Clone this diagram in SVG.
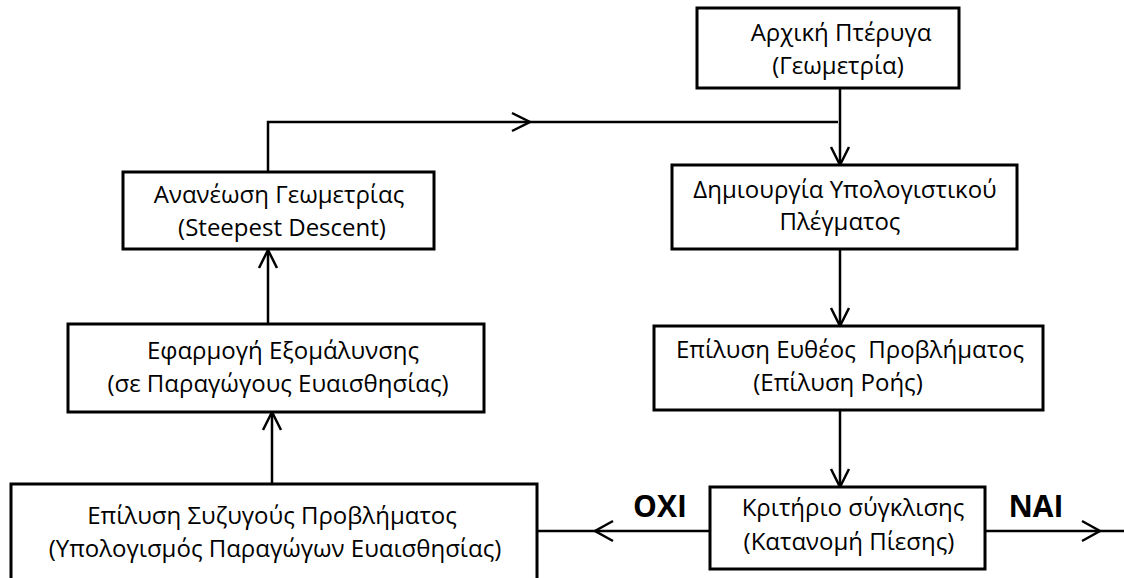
<svg xmlns="http://www.w3.org/2000/svg" width="1124" height="578" viewBox="0 0 1124 578">
<style>
.box{fill:#fff;stroke:#000;stroke-width:3}
.t{font-family:"Open Sans","Liberation Sans",sans-serif;font-size:24px;fill:#000;text-anchor:middle;white-space:pre}
.lab{font-family:"Open Sans","Liberation Sans",sans-serif;font-size:30px;font-weight:bold;fill:#000;text-anchor:middle}
.c{fill:none;stroke:#000;stroke-width:2.5}
.ah{fill:none;stroke:#000;stroke-width:2.5;stroke-linecap:butt}
</style>
<rect width="1124" height="578" fill="#fff"/>
<g id="connectors">
<path class="c" d="M840,88V165"/>
<path class="ah" d="M831,147L840,165L849,147"/>
<path class="c" d="M840,250V326"/>
<path class="ah" d="M831,308L840,326L849,308"/>
<path class="c" d="M840,410V487"/>
<path class="ah" d="M831,469L840,487L849,469"/>
<path class="c" d="M710,531H537"/>
<path class="ah" d="M613,521L595,531L613,541"/>
<path class="c" d="M986,531H1124"/>
<path class="ah" d="M1082,521L1100,531L1082,541"/>
<path class="c" d="M272,485V412"/>
<path class="ah" d="M263,430L272,412L281,430"/>
<path class="c" d="M268,324V250"/>
<path class="ah" d="M259,268L268,250L277,268"/>
<path class="c" d="M268,172V122H838"/>
<path class="ah" d="M512,113L530,122L512,131"/>
</g>
<g id="n1"><rect class="box" x="697" y="8" width="262" height="80"/><text class="t" x="841" y="41">Αρχική Πτέρυγα</text><text class="t" x="838" y="74">(Γεωμετρία)</text></g>
<g id="n2"><rect class="box" x="672" y="165" width="345" height="84"/><text class="t" x="845" y="198">Δημιουργία Υπολογιστικού</text><text class="t" x="840" y="230">Πλέγματος</text></g>
<g id="n3"><rect class="box" x="654" y="326" width="389" height="84"/><text class="t" x="850" y="358">Επίλυση Ευθέος  Προβλήματος</text><text class="t" x="838" y="391">(Επίλυση Ροής)</text></g>
<g id="n4"><rect class="box" x="710" y="487" width="275" height="82"/><text class="t" x="853" y="516">Κριτήριο σύγκλισης</text><text class="t" x="849" y="550">(Κατανομή Πίεσης)</text></g>
<g id="n5"><rect class="box" x="123" y="172" width="311" height="77"/><text class="t" x="279" y="203">Ανανέωση Γεωμετρίας</text><text class="t" x="282" y="236">(Steepest Descent)</text></g>
<g id="n6"><rect class="box" x="68" y="324" width="416" height="88"/><text class="t" x="283" y="359">Εφαρμογή Εξομάλυνσης</text><text class="t" x="278" y="392">(σε Παραγώγους Ευαισθησίας)</text></g>
<g id="n7"><rect class="box" x="11" y="484" width="526" height="110"/><text class="t" x="272" y="524">Επίλυση Συζυγούς Προβλήματος</text><text class="t" x="275" y="557">(Υπολογισμός Παραγώγων Ευαισθησίας)</text></g>
<text class="lab" x="660" y="517">ΟΧΙ</text>
<text class="lab" x="1036" y="517">ΝΑΙ</text>
</svg>
